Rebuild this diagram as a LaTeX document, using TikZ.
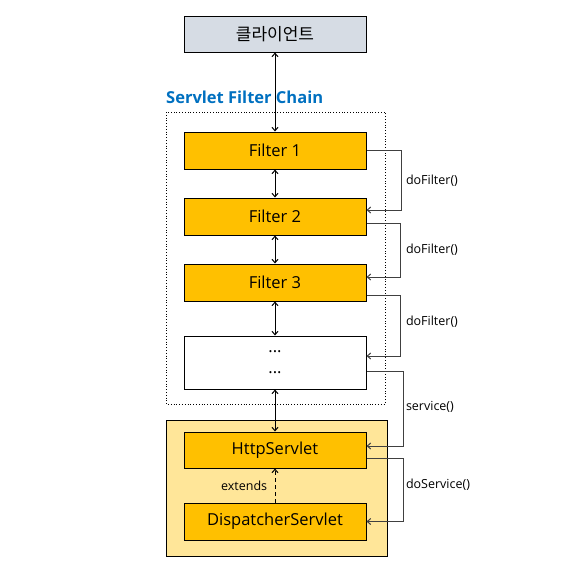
\documentclass[tikz,border=0pt]{standalone}
\usepackage{fontspec}
\setmainfont{Open Sans}
\newfontfamily\krfont{Noto Sans CJK KR}
\usetikzlibrary{arrows.meta}
\definecolor{clientgray}{HTML}{D6DCE4}
\definecolor{filteryellow}{HTML}{FFC000}
\definecolor{servletbg}{HTML}{FFE699}
\definecolor{titleblue}{HTML}{0070C0}
\begin{document}
\begin{tikzpicture}[
		x=1pt, y=1pt,
		>={Straight Barb[length=3.5pt,width=6pt]},
		box/.style={draw, line width=1pt, minimum width=182pt, minimum height=37pt, inner sep=0pt,
			font=\fontsize{16.5}{20}\selectfont},
		filter/.style={box, fill=filteryellow},
		call/.style={->, draw=black!75, line width=1pt},
		lbl/.style={anchor=west, inner sep=0pt, font=\fontsize{12.5}{15}\selectfont}
	]
	\useasboundingbox (0,0) rectangle (571,-582);

	% 필터 체인 영역과 서블릿 영역
	\draw[dotted, line width=0.8pt] (166,-112) rectangle (385,-404);
	\draw[fill=servletbg, line width=1pt] (166,-420) rectangle (387,-556);
	\node[anchor=west, inner sep=0pt, text=titleblue, font=\fontsize{16.5}{20}\selectfont\bfseries] (title) at (166,-97) {Servlet Filter Chain};

	% 상자
	\node[box, fill=clientgray, minimum height=36pt, font=\krfont\fontsize{17}{20}\selectfont] (client) at (275,-34) {클라이언트};
	\node[filter] (f1) at (275,-150.5) {Filter 1};
	\node[filter] (f2) at (275,-216.5) {Filter 2};
	\node[filter] (f3) at (275,-282.5) {Filter 3};
	\node[box, fill=white, minimum height=53pt, align=center, font=\fontsize{16.5}{21}\selectfont] (more) at (275,-362.5) {...\\...};
	\node[filter, minimum height=36pt] (http) at (275,-450) {HttpServlet};
	\node[filter] (disp) at (275,-521.5) {DispatcherServlet};

	% 세로 화살표
	\path[<->, line width=1pt]
		(client) edge (f1)
		(f1) edge (f2)
		(f2) edge (f3)
		(f3) edge (more)
		(more) edge (http);
	\draw[->, dash pattern=on 4pt off 3pt, line width=1pt] (disp) -- node[left=4pt, font=\fontsize{12.5}{15}\selectfont] {extends} (http);

	% 호출 흐름
	\draw[call] (f1.east) -- ++(35,0) |- node[lbl, pos=0.25, xshift=4pt] {doFilter()} ([yshift=6.5pt]f2.east);
	\draw[call] ([yshift=-6.5pt]f2.east) -- ++(34,0) |- node[lbl, pos=0.25, xshift=5pt] {doFilter()} ([yshift=5.5pt]f3.east);
	\draw[call] ([yshift=-12.5pt]f3.east) -- ++(34,0) |- node[lbl, pos=0.22, xshift=5pt] {doFilter()} ([yshift=6.5pt]more.east);
	\draw[call] ([yshift=-8.5pt]more.east) -- ++(37,0) |- node[lbl, pos=0.24, xshift=2pt] {service()} ([yshift=4pt]http.east);
	\draw[call] ([yshift=-8pt]http.east) -- ++(37,0) |- node[lbl, pos=0.21, xshift=2pt] {doService()} (disp.east);
\end{tikzpicture}
\end{document}
